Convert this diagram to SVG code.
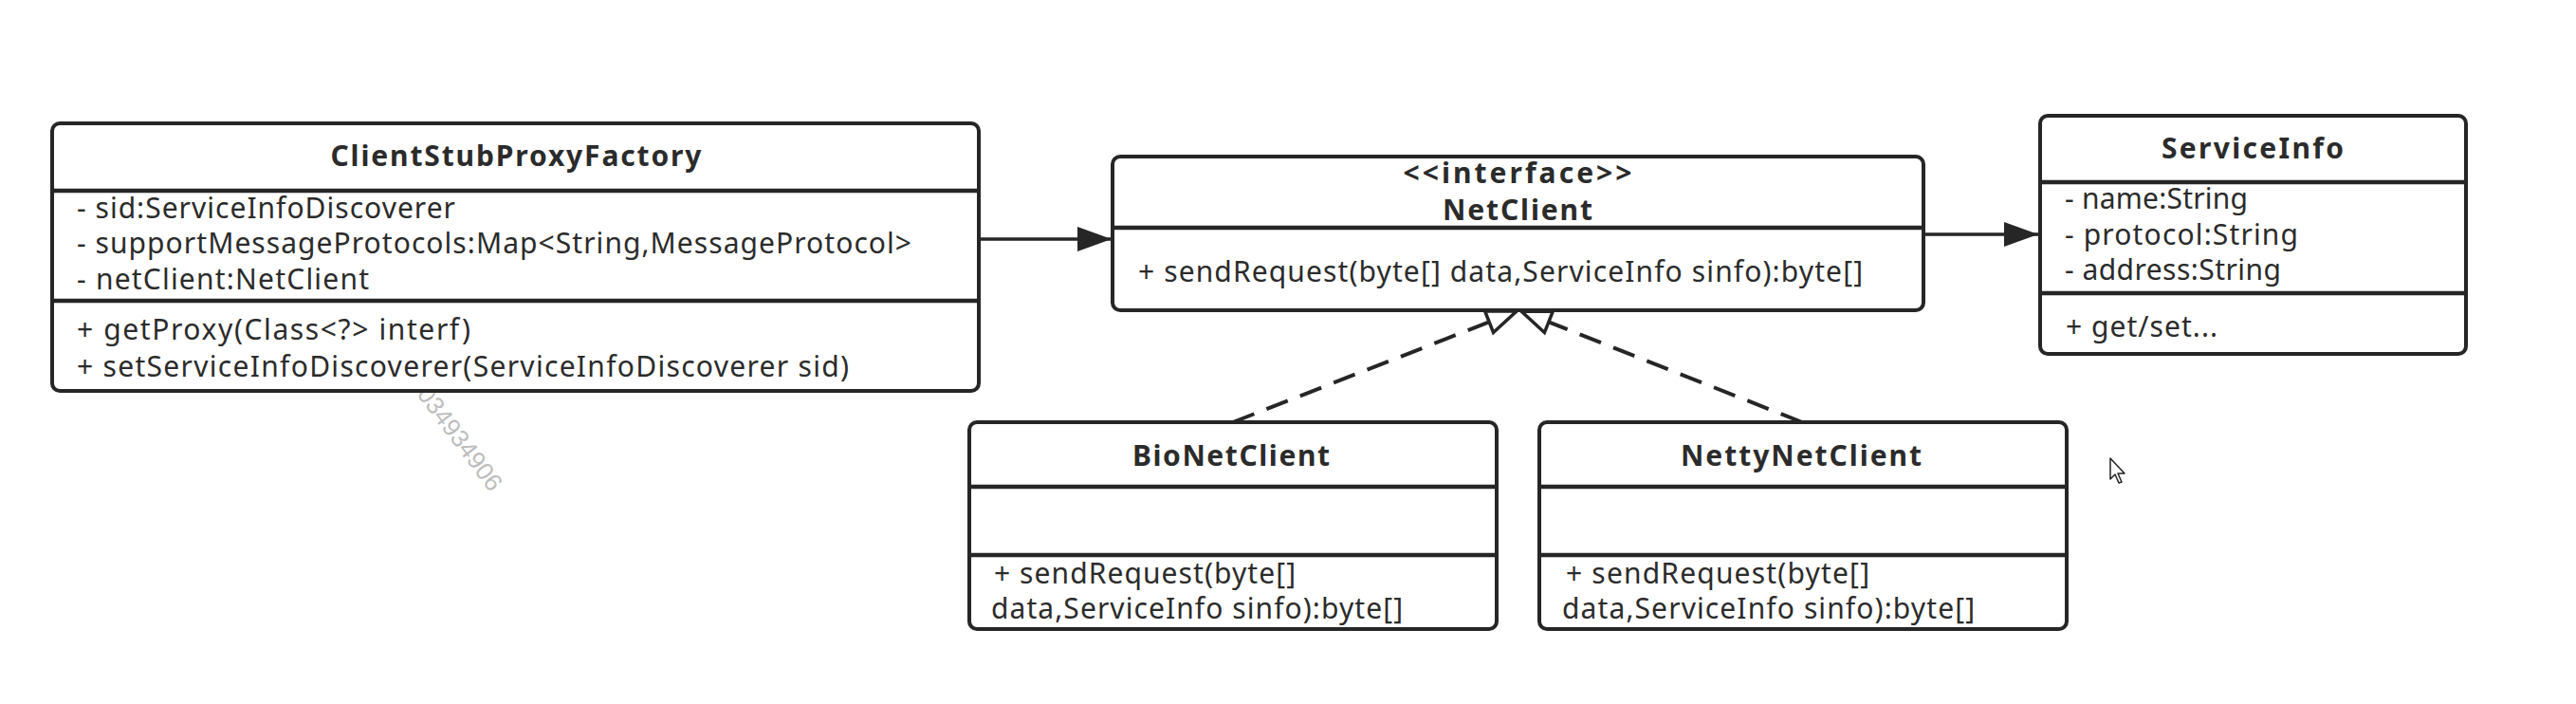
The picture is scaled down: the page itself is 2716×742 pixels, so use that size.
<svg xmlns="http://www.w3.org/2000/svg" width="2716" height="742" viewBox="0 0 2716 742">
<style>
.box{fill:#fff;stroke:#262626;stroke-width:4}
.sep{stroke:#262626;stroke-width:4.5}
.t{font-family:"Noto Sans","Open Sans","DejaVu Sans",sans-serif;font-size:30px;fill:#2b2b2b}
.b{font-weight:bold;text-anchor:middle}
.assoc{stroke:#262626;stroke-width:3.5;fill:none}
.real{stroke:#262626;stroke-width:4;fill:none;stroke-dasharray:24 14}
.wm{font-family:"Liberation Sans",Arial,sans-serif;font-size:26px;fill:#bdbdbd}
</style>
<defs>
<marker id="filled" markerUnits="userSpaceOnUse" markerWidth="40" markerHeight="28" refX="36" refY="13" orient="auto">
<path d="M0,0 L36,13 L0,26 z" fill="#262626"/>
</marker>
<marker id="hollow" markerUnits="userSpaceOnUse" markerWidth="40" markerHeight="34" refX="34" refY="15" orient="auto">
<path d="M3,3 L34,15 L3,27 z" fill="#fff" stroke="#262626" stroke-width="3.5" stroke-linejoin="miter"/>
</marker>
</defs>
<rect width="2716" height="742" fill="#fff"/>

<text class="wm" x="430" y="404" transform="rotate(53 430 404)">1034934906</text>

<g id="connectors">
<line class="assoc" x1="1032" y1="252" x2="1172" y2="252" marker-end="url(#filled)"/>
<line class="assoc" x1="2028" y1="247" x2="2149" y2="247" marker-end="url(#filled)"/>
<line class="real" x1="1300" y1="445" x2="1599" y2="328" marker-end="url(#hollow)"/>
<line class="real" x1="1900" y1="445" x2="1604" y2="328" marker-end="url(#hollow)"/>
</g>

<g id="ClientStubProxyFactory">
<rect class="box" x="55" y="130" width="977" height="282" rx="8"/>
<line class="sep" x1="55" y1="201" x2="1032" y2="201"/>
<line class="sep" x1="55" y1="317" x2="1032" y2="317"/>
<text class="t b" x="544" y="175" textLength="391">ClientStubProxyFactory</text>
<text class="t" x="81" y="230" textLength="399">- sid:ServiceInfoDiscoverer</text>
<text class="t" x="81" y="267" textLength="880">- supportMessageProtocols:Map&lt;String,MessageProtocol&gt;</text>
<text class="t" x="81" y="305" textLength="308">- netClient:NetClient</text>
<text class="t" x="81" y="358" textLength="415">+ getProxy(Class&lt;?&gt; interf)</text>
<text class="t" x="81" y="397" textLength="814">+ setServiceInfoDiscoverer(ServiceInfoDiscoverer sid)</text>
</g>

<g id="NetClient">
<rect class="box" x="1173" y="165" width="855" height="162" rx="8"/>
<line class="sep" x1="1173" y1="240" x2="2028" y2="240"/>
<text class="t b" x="1600" y="193" textLength="241">&lt;&lt;interface&gt;&gt;</text>
<text class="t b" x="1600" y="232" textLength="158">NetClient</text>
<text class="t" x="1200" y="297" textLength="764">+ sendRequest(byte[] data,ServiceInfo sinfo):byte[]</text>
</g>

<g id="ServiceInfo">
<rect class="box" x="2151" y="122" width="449" height="251" rx="8"/>
<line class="sep" x1="2151" y1="192" x2="2600" y2="192"/>
<line class="sep" x1="2151" y1="309" x2="2600" y2="309"/>
<text class="t b" x="2375" y="167" textLength="192">ServiceInfo</text>
<text class="t" x="2177" y="220" textLength="193">- name:String</text>
<text class="t" x="2177" y="258" textLength="246">- protocol:String</text>
<text class="t" x="2177" y="295" textLength="228">- address:String</text>
<text class="t" x="2178" y="355" textLength="160">+ get/set...</text>
</g>

<g id="BioNetClient">
<rect class="box" x="1022" y="445" width="556" height="218" rx="8"/>
<line class="sep" x1="1022" y1="513" x2="1578" y2="513"/>
<line class="sep" x1="1022" y1="585" x2="1578" y2="585"/>
<text class="t b" x="1298" y="491" textLength="208">BioNetClient</text>
<text class="t" x="1048" y="615" textLength="318">+ sendRequest(byte[]</text>
<text class="t" x="1045" y="652" textLength="434">data,ServiceInfo sinfo):byte[]</text>
</g>

<g id="NettyNetClient">
<rect class="box" x="1623" y="445" width="556" height="218" rx="8"/>
<line class="sep" x1="1623" y1="513" x2="2179" y2="513"/>
<line class="sep" x1="1623" y1="585" x2="2179" y2="585"/>
<text class="t b" x="1899" y="491" textLength="254">NettyNetClient</text>
<text class="t" x="1651" y="615" textLength="320">+ sendRequest(byte[]</text>
<text class="t" x="1647" y="652" textLength="435">data,ServiceInfo sinfo):byte[]</text>
</g>

<path d="M2225,483 L2225,505 L2230,500 L2234,509 L2237,508 L2233,499 L2240,499 Z" fill="#fff" stroke="#222" stroke-width="1.5" stroke-linejoin="round"/>
</svg>
